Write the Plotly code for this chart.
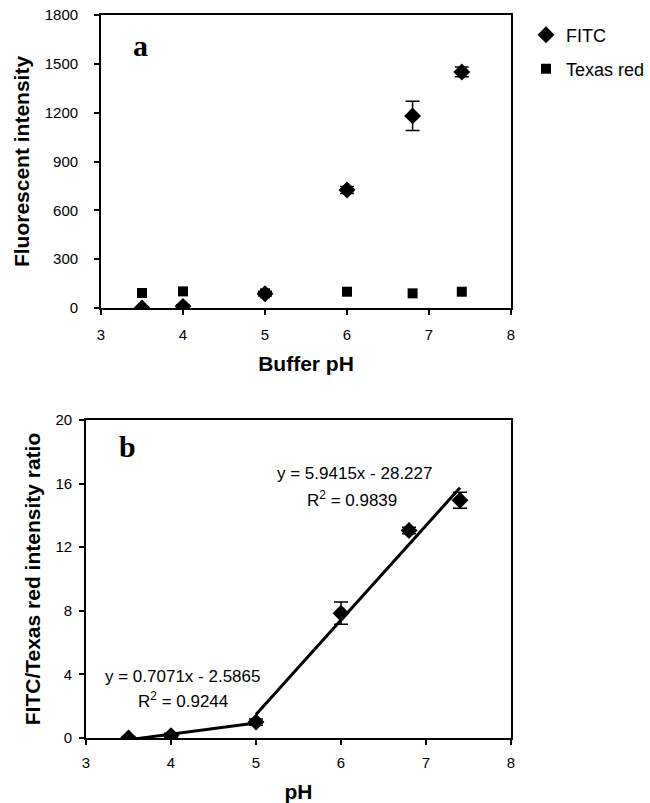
import plotly.graph_objects as go

# ---- data (panel a) ----
ph_a = [3.5, 4.0, 5.0, 6.0, 6.8, 7.4]
fitc = [0, 10, 88, 725, 1180, 1450]
fitc_err = [8, 8, 15, 22, 90, 30]
texas = [92, 102, 90, 100, 90, 100]

# ---- data (panel b) ----
ph_b = [3.5, 4.0, 5.0, 6.0, 6.8, 7.4]
ratio = [0.0, 0.15, 1.0, 7.85, 13.05, 14.95]
ratio_err = [0.1, 0.15, 0.2, 0.7, 0.2, 0.5]

# trendline equations printed on the chart
fit1 = dict(slope=0.7071, icpt=-2.5865, r2=0.9244, xs=[3.5, 5.0])
fit2 = dict(slope=5.9415, icpt=-28.227, r2=0.9839, xs=[5.0, 7.4])

x_ticks = [3, 4, 5, 6, 7, 8]
ya_ticks = [0, 300, 600, 900, 1200, 1500, 1800]
yb_ticks = [0, 4, 8, 12, 16, 20]

W, H = 650, 803


def fx(px):
    return px / W


def fy(py):
    return 1 - py / H


TICKFONT = dict(family="Liberation Sans, Arial", size=15, color="black")
TITLEFONT = dict(family="Liberation Sans, Arial", size=21, color="black")
TXTFONT = dict(family="Liberation Sans, Arial", size=17, color="black")
LEGFONT = dict(family="Liberation Sans, Arial", size=18, color="black")
LETTERFONT = dict(family="Liberation Serif, Times New Roman", size=30, color="black")

fig = go.Figure()

err_style = dict(type="data", color="black", thickness=1.5, width=7)

fig.add_trace(go.Scatter(x=ph_a, y=fitc, mode="markers", name="FITC",
                         marker=dict(symbol="diamond", size=13, color="black"),
                         error_y=dict(array=fitc_err, **err_style),
                         xaxis="x", yaxis="y", legend="legend"))
fig.add_trace(go.Scatter(x=ph_a, y=texas, mode="markers", name="Texas red",
                         marker=dict(symbol="square", size=10, color="black"),
                         xaxis="x", yaxis="y", legend="legend2"))

for f in (fit1, fit2):
    ys = [f["slope"] * x + f["icpt"] for x in f["xs"]]
    fig.add_trace(go.Scatter(x=f["xs"], y=ys, mode="lines", showlegend=False,
                             line=dict(color="black", width=3),
                             xaxis="x2", yaxis="y2"))

fig.add_trace(go.Scatter(x=ph_b, y=ratio, mode="markers", showlegend=False,
                         marker=dict(symbol="diamond", size=13, color="black"),
                         error_y=dict(array=ratio_err, **err_style),
                         xaxis="x2", yaxis="y2"))

ax_common = dict(showline=True, linecolor="black", linewidth=1.8, mirror=True,
                 ticks="outside", ticklen=5, tickwidth=1.5, tickcolor="black",
                 showgrid=False, zeroline=False, tickfont=TICKFONT, automargin=False,
                 ticklabeloverflow="allow")

leg_common = dict(xanchor="left", yanchor="middle", font=LEGFONT,
                  bgcolor="rgba(0,0,0,0)", borderwidth=0,
                  xref="paper", yref="paper")

fig.update_layout(
    width=W, height=H,
    margin=dict(l=0, r=0, t=0, b=0, autoexpand=False),
    paper_bgcolor="white", plot_bgcolor="white",
    xaxis=dict(domain=[fx(101), fx(511)], range=[3, 8], tickvals=x_ticks,
               anchor="y", ticklabelstandoff=7,
               title=dict(text="<b>Buffer pH</b>", font=TITLEFONT, standoff=14), **ax_common),
    yaxis=dict(domain=[fy(308), fy(15)], range=[0, 1800], tickvals=ya_ticks,
               anchor="x", ticklabelstandoff=13,
               title=dict(text="<b>Fluorescent intensity</b>", font=TITLEFONT, standoff=9), **ax_common),
    xaxis2=dict(domain=[fx(86), fx(511)], range=[3, 8], tickvals=x_ticks,
                anchor="y2", ticklabelstandoff=5,
                title=dict(text="<b>pH</b>", font=TITLEFONT, standoff=16), **ax_common),
    yaxis2=dict(domain=[fy(738), fy(420)], range=[0, 20], tickvals=yb_ticks,
                anchor="x2", ticklabelstandoff=4,
                title=dict(text="<b>FITC/Texas red intensity ratio</b>", font=TITLEFONT, standoff=9), **ax_common),
    legend=dict(x=fx(526), y=fy(35), **leg_common),
    legend2=dict(x=fx(526), y=fy(69), **leg_common),
    showlegend=True,
)

annos = [
    dict(text="<b>a</b>", x=fx(140), y=fy(45), font=LETTERFONT),
    dict(text="<b>b</b>", x=fx(127), y=fy(446), font=LETTERFONT),
    dict(text=f"y = {fit2['slope']}x - {abs(fit2['icpt'])}", x=fx(355), y=fy(473), font=TXTFONT),
    dict(text=f"R<sup>2</sup> = {fit2['r2']}", x=fx(352), y=fy(499), font=TXTFONT),
    dict(text=f"y = {fit1['slope']}x - {abs(fit1['icpt'])}", x=fx(183), y=fy(676), font=TXTFONT),
    dict(text=f"R<sup>2</sup> = {fit1['r2']}", x=fx(183), y=fy(700), font=TXTFONT),
]
for a in annos:
    fig.add_annotation(xref="paper", yref="paper", showarrow=False,
                       xanchor="center", yanchor="middle", **a)

# remove the browser's default 8px body margin so the 650x803 figure fills the window
fig.write_html("out.html",
               config={"displayModeBar": False},
               post_script="document.body.style.margin='0';document.body.style.overflow='hidden';")
